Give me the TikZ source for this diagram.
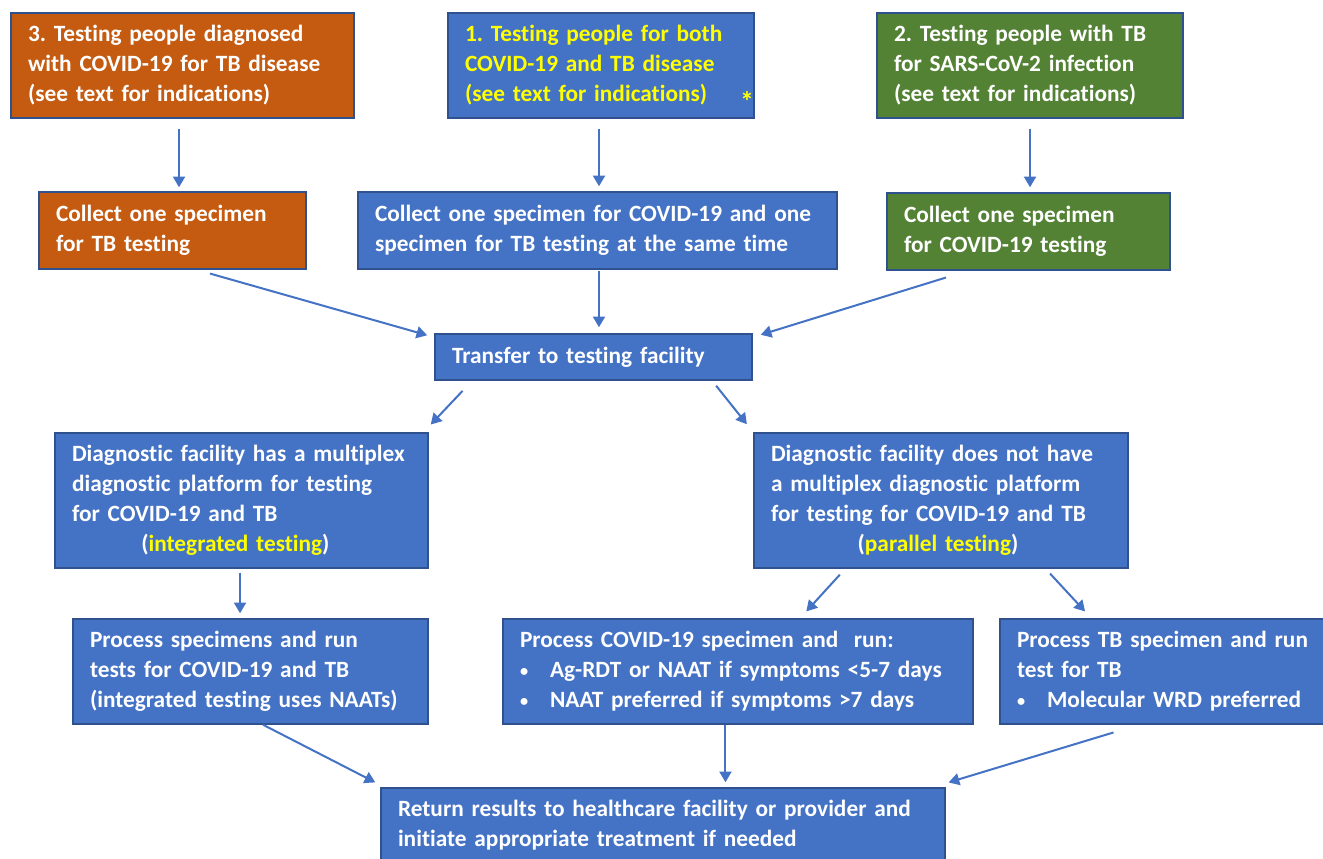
\documentclass[tikz,border=0pt]{standalone}
\usepackage{fontspec}
\setmainfont{Carlito}[Ligatures=NoCommon]
\usetikzlibrary{arrows.meta}

\definecolor{boxblue}{HTML}{4472C4}
\definecolor{boxorange}{HTML}{C55A11}
\definecolor{boxgreen}{HTML}{548235}
\definecolor{boxline}{HTML}{2F528F}
\definecolor{hilite}{HTML}{FFFF00}

\newcommand{\dotitem}{\makebox[22.5pt][l]{\raisebox{1pt}{\scalebox{0.7}{\textbullet}}}}

\begin{document}
\frenchspacing
\begin{tikzpicture}[x=0.75pt,y=-0.75pt]
  % styles
  \tikzset{
    box/.style={draw=boxline, line width=1.1pt, fill=boxblue, text=white, align=left,
      inner xsep=12.75pt, inner ysep=0pt, font=\bfseries\fontsize{17.5}{22.5}\selectfont},
    headbox/.style={box, text=hilite},
    orangebox/.style={box, fill=boxorange},
    greenbox/.style={box, fill=boxgreen},
    arr/.style={draw=boxblue, line width=1.5pt, -{Triangle[width=9pt,length=8pt]}}
  }
  \clip (0,0) rectangle (1323,859);

  % top row: the three entry points
  \node[headbox, orangebox, text width=231.75pt, minimum height=78.75pt] (b3) at (182.5,65.5)
    {3. Testing people diagnosed\\with COVID-19 for TB disease\\(see text for indications)};
  \node[headbox, text width=204pt, minimum height=78.75pt] (b1) at (601,65.5)
    {1. Testing people for both\\COVID-19 and TB disease\\(see text for indications)};
  \node[headbox, greenbox, text width=204pt, minimum height=78.75pt] (b2) at (1030,65.5)
    {2. Testing people with TB\\for SARS-CoV-2 infection\\(see text for indications)};
  \node[text=hilite, font=\bfseries\fontsize{21}{21}\selectfont, inner sep=0pt] (ast) at (747,101) {*};

  % specimen collection
  \node[box, orangebox, text width=174.75pt, minimum height=57.75pt] (c3) at (172.5,230.5)
    {Collect one specimen\\for TB testing};
  \node[box, text width=333.75pt, minimum height=57.75pt] (c1) at (597.5,230.5)
    {Collect one specimen for COVID-19 and one\\specimen for TB testing at the same time};
  \node[box, greenbox, text width=186.75pt, minimum height=57.75pt] (c2) at (1028.5,231.5)
    {Collect one specimen\\for COVID-19 testing};

  % transfer
  \node[box, text width=212.25pt, minimum height=34.5pt] (t) at (593.5,357)
    {Transfer to testing facility};

  % facility type
  \node[box, text width=254.25pt, minimum height=101.25pt] (dl) at (241.5,500.5)
    {Diagnostic facility has a multiplex\\diagnostic platform for testing\\for COVID-19 and TB\\
     \hspace*{52pt}(\textcolor{hilite}{integrated testing})};
  \node[box, text width=255pt, minimum height=101.25pt] (dr) at (941,500.5)
    {Diagnostic facility does not have\\a multiplex diagnostic platform\\for testing for COVID-19 and TB\\
     \hspace*{65pt}(\textcolor{hilite}{parallel testing})};

  % processing
  \node[box, text width=240.75pt, minimum height=78.75pt] (pl) at (250.5,671.5)
    {Process specimens and run\\tests for COVID-19 and TB\\(integrated testing uses NAATs)};
  \node[box, text width=327pt, minimum height=78.75pt] (pm) at (738,671.5)
    {Process COVID-19 specimen and\ \ run:\\
     \dotitem Ag-RDT or NAAT if symptoms <5-7 days\\
     \dotitem NAAT preferred if symptoms >7 days};
  \node[box, text width=222pt, minimum height=78.75pt] (pr) at (1165,671.5)
    {Process TB specimen and run\\test for TB\\
     \dotitem Molecular WRD preferred};

  % results
  \node[box, text width=397.5pt, minimum height=56.25pt] (ret) at (663,825.5)
    {Return results to healthcare facility or provider and\\initiate appropriate treatment if needed};

  % arrows
  \draw[arr, shorten <=7.5pt, shorten >=3pt] ([xshift=-2.6pt]b3.south) -- ([xshift=-2.6pt]b3.south |- c3.north);
  \draw[arr, shorten <=7.5pt, shorten >=3.75pt] ([xshift=-1.5pt]b1.south) -- ([xshift=-1.5pt]b1.south |- c1.north);
  \draw[arr, shorten <=7.5pt, shorten >=3.75pt] (b2.south) -- (b2.south |- c2.north);
  \draw[arr, shorten <=10.6pt, shorten >=5.5pt] ([xshift=18pt]c3.south) -- ([yshift=-3pt]t.north west);
  \draw[arr, shorten <=0.75pt, shorten >=4.5pt] ([xshift=1.1pt]c1.south) -- ([xshift=1.1pt]c1.south |- t.north);
  \draw[arr, shorten <=17.3pt, shorten >=6.3pt] ([xshift=-45.4pt]c2.south) -- ([yshift=-3pt]t.north east);
  \draw[arr, shorten <=10.5pt, shorten >=8pt] ([xshift=-91pt]t.south) -- ([xshift=-4pt]dl.north east);
  \draw[arr, shorten <=4.8pt, shorten >=7.7pt] ([xshift=89pt]t.south) -- (dr.north west);
  \draw[arr, shorten <=3pt, shorten >=3.75pt] ([xshift=-1.1pt]dl.south) -- ([xshift=-1.1pt]dl.south |- pl.north);
  \draw[arr, shorten <=6pt, shorten >=7pt] ([xshift=-71.8pt]dr.south) -- ([xshift=46.5pt]pm.north);
  \draw[arr, shorten <=5pt, shorten >=7pt] ([xshift=78.4pt]dr.south) -- ([xshift=-55.2pt]pr.north);
  \draw[arr, shorten >=8pt] ([xshift=9.4pt]pl.south) -- ([xshift=3.4pt]ret.north west);
  \draw[arr, shorten >=3.75pt] ([xshift=-9.4pt]pm.south) -- ([xshift=-9.4pt]pm.south |- ret.north);
  \draw[arr, shorten <=20pt, shorten >=12.6pt] ([xshift=-19.5pt]pr.south) -- ([xshift=-9.9pt]ret.north east);
\end{tikzpicture}
\end{document}
